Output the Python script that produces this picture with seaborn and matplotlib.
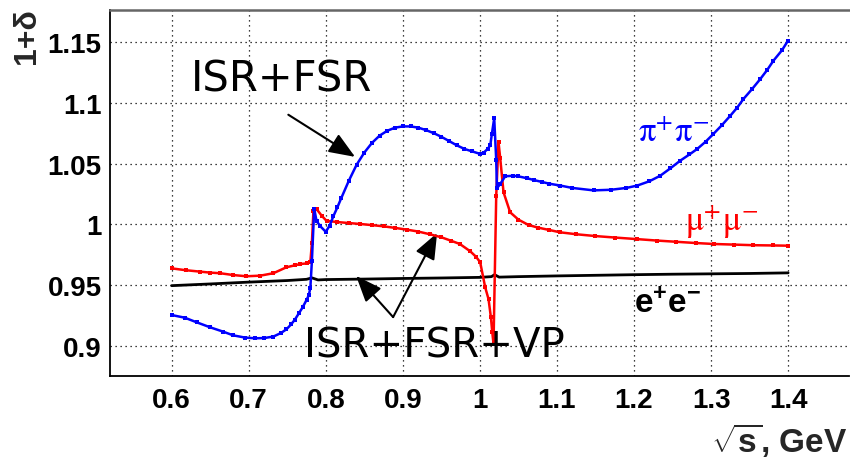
import matplotlib
matplotlib.use("Agg")
import matplotlib.pyplot as plt
import seaborn as sns
import numpy as np
import pandas as pd
from matplotlib.ticker import MultipleLocator, FormatStrFormatter

# ---------------- data ----------------
pipi_x = [0.600, 0.617, 0.633, 0.650, 0.667, 0.680, 0.695, 0.708, 0.720, 0.732,
          0.742, 0.749, 0.755, 0.760, 0.765, 0.770, 0.775, 0.778, 0.780, 0.782,
          0.785, 0.788, 0.793, 0.800, 0.805, 0.810, 0.815, 0.820, 0.830, 0.840,
          0.850, 0.860, 0.870, 0.880, 0.890, 0.900, 0.910, 0.920, 0.930, 0.940,
          0.950, 0.960, 0.970, 0.980, 0.990, 1.000, 1.005, 1.010, 1.0135, 1.0156,
          1.0186, 1.0212, 1.0221, 1.0264, 1.0329, 1.0436, 1.050, 1.061, 1.070, 1.080,
          1.090, 1.104, 1.120, 1.1476, 1.170, 1.190, 1.204, 1.220, 1.234, 1.247,
          1.260, 1.272, 1.282, 1.293, 1.303, 1.314, 1.325, 1.334, 1.342, 1.353,
          1.364, 1.373, 1.381, 1.392, 1.400]
pipi_y = [0.9257, 0.9235, 0.9196, 0.9156, 0.9120, 0.9090, 0.9072, 0.9066, 0.9068, 0.9080,
          0.9110, 0.9140, 0.9180, 0.9220, 0.9270, 0.9320, 0.9380, 0.9420, 0.9480, 0.9700,
          1.0130, 1.0030, 0.9985, 0.9940, 0.9990, 1.0070, 1.0140, 1.0215, 1.0360, 1.0490,
          1.0590, 1.0670, 1.0730, 1.0770, 1.0795, 1.0805, 1.0805, 1.0795, 1.0775, 1.0750,
          1.0720, 1.0685, 1.0650, 1.0620, 1.0600, 1.0580, 1.0590, 1.0620, 1.0650, 1.0745,
          1.0872, 1.0530, 1.0297, 1.0333, 1.0396, 1.0400, 1.0395, 1.0380, 1.0365, 1.0350,
          1.0335, 1.0320, 1.0300, 1.0280, 1.0285, 1.0300, 1.0319, 1.0355, 1.0400, 1.0460,
          1.0524, 1.0575, 1.0620, 1.0680, 1.0743, 1.0815, 1.0893, 1.0960, 1.1030, 1.1110,
          1.1195, 1.1270, 1.1345, 1.1430, 1.1510]

mumu_x = [0.600, 0.618, 0.637, 0.650, 0.663, 0.680, 0.697, 0.715, 0.732, 0.749,
          0.760, 0.767, 0.775, 0.780, 0.782, 0.784, 0.788, 0.795, 0.801, 0.815,
          0.830, 0.845, 0.860, 0.875, 0.890, 0.905, 0.920, 0.935, 0.950, 0.962,
          0.974, 0.9875, 0.995, 1.0004, 1.0069, 1.0112, 1.0143, 1.0160, 1.0177, 1.0212,
          1.0242, 1.0264, 1.0307, 1.0393, 1.0500, 1.0631, 1.075, 1.090, 1.104, 1.125,
          1.150, 1.175, 1.204, 1.230, 1.255, 1.280, 1.3034, 1.330, 1.355, 1.380, 1.400]
mumu_y = [0.9640, 0.9625, 0.9613, 0.9605, 0.9600, 0.9585, 0.9575, 0.9580, 0.9600, 0.9649,
          0.9665, 0.9676, 0.9680, 0.9690, 0.9850, 1.0110, 1.0127, 1.0070, 1.0030, 1.0020,
          1.0012, 1.0004, 0.9995, 0.9985, 0.9972, 0.9958, 0.9942, 0.9920, 0.9895, 0.9868,
          0.9840, 0.9780, 0.9735, 0.9690, 0.9484, 0.9388, 0.9238, 0.9120, 0.9019, 1.0237,
          1.0675, 1.0543, 1.0264, 1.0100, 1.0040, 0.9996, 0.9975, 0.9955, 0.9936, 0.9920,
          0.9905, 0.9893, 0.9880, 0.9868, 0.9858, 0.9848, 0.9840, 0.9835, 0.9830, 0.9828,
          0.9826]

ee_x = [0.60, 0.65, 0.70, 0.75, 0.775, 0.782, 0.79, 0.80, 0.85, 0.90, 0.95, 1.00,
        1.015, 1.019, 1.025, 1.05, 1.10, 1.15, 1.20, 1.25, 1.30, 1.35, 1.40]
ee_y = [0.9498, 0.9512, 0.9527, 0.9540, 0.9550, 0.9562, 0.9545, 0.9548, 0.9552, 0.9557,
        0.9561, 0.9566, 0.9572, 0.9588, 0.9568, 0.9572, 0.9578, 0.9583, 0.9588, 0.9592,
        0.9595, 0.9598, 0.9603]

x_ticks = [0.6, 0.7, 0.8, 0.9, 1.0, 1.1, 1.2, 1.3, 1.4]
y_ticks = [0.9, 0.95, 1.0, 1.05, 1.1, 1.15]

# ---------------- style ----------------
sns.set_theme(style="white")
plt.rcParams['font.family'] = ['Liberation Sans', 'DejaVu Sans']
plt.rcParams['mathtext.fontset'] = 'custom'
plt.rcParams['mathtext.rm'] = 'Liberation Sans'
plt.rcParams['mathtext.bf'] = 'Liberation Sans:bold'
plt.rcParams['mathtext.it'] = 'Liberation Sans:italic'

fig = plt.figure(figsize=(8.5, 4.6), dpi=100)
ax = fig.add_axes([110/850, 82.7/460, 739/850, 366.6/460])

df_pp = pd.DataFrame({"x": pipi_x, "y": pipi_y})
df_mm = pd.DataFrame({"x": mumu_x, "y": mumu_y})
df_ee = pd.DataFrame({"x": ee_x, "y": ee_y})

sns.lineplot(data=df_ee, x="x", y="y", color="black", linewidth=2.0,
             errorbar=None, ax=ax, zorder=3)
sns.lineplot(data=df_mm, x="x", y="y", color="#ff0000", linewidth=1.8,
             marker="s", markersize=3.0, markeredgewidth=0, errorbar=None, ax=ax, zorder=4)
sns.lineplot(data=df_pp, x="x", y="y", color="#0000ff", linewidth=1.8,
             marker="s", markersize=3.0, markeredgewidth=0, errorbar=None, ax=ax, zorder=5)

ax.set_xlim(0.52, 1.479)
ax.set_ylim(0.8754, 1.1763)
ax.set_xlabel("")
ax.set_ylabel("")

ax.xaxis.set_major_locator(MultipleLocator(0.1))
ax.xaxis.set_minor_locator(MultipleLocator(0.02))
ax.yaxis.set_major_locator(MultipleLocator(0.05))
ax.yaxis.set_minor_locator(MultipleLocator(0.01))
ax.set_xticks(x_ticks)
ax.set_yticks(y_ticks)
ax.xaxis.set_major_formatter(FormatStrFormatter('%g'))
ax.yaxis.set_major_formatter(FormatStrFormatter('%g'))

ax.tick_params(axis='both', which='both', direction='in', colors='black',
               top=False, right=False)
ax.tick_params(axis='y', which='major', length=13, width=1.0, pad=6)
ax.tick_params(axis='y', which='minor', length=7, width=1.0)
ax.tick_params(axis='x', which='major', length=11, width=1.0, pad=8)
ax.tick_params(axis='x', which='minor', length=5, width=1.0)
for lab in ax.get_xticklabels() + ax.get_yticklabels():
    lab.set_fontweight('bold')
    lab.set_fontsize(20)

ax.grid(True, which='major', color='black', linestyle=(0, (1, 3)), linewidth=0.9)
ax.set_axisbelow(True)

ax.spines['left'].set_color('black')
ax.spines['left'].set_linewidth(1.3)
ax.spines['bottom'].set_color('black')
ax.spines['bottom'].set_linewidth(1.3)
ax.spines['top'].set_color('#666666')
ax.spines['top'].set_linewidth(1.8)
ax.spines['right'].set_visible(False)

# axis titles
fig.text(27/850, 1 - 8/460, "1+δ", rotation=90, ha='center', va='top',
         fontsize=23, fontweight='bold')
fig.text(848/850, 1 - 440/460, r"$\sqrt{\mathbf{s}}$, GeV", ha='right', va='center',
         fontsize=24, fontweight='bold')

# curve labels
ax.text(1.251, 1.076, r'$\mathrm{\pi^{+}\pi^{-}}$', color='#0000ff', fontsize=25,
        ha='center', va='center', math_fontfamily='stix')
ax.text(1.3134, 1.0029, r'$\mathrm{\mu^{+}\mu^{-}}$', color='#ff0000', fontsize=25,
        ha='center', va='center', math_fontfamily='stix')
ax.text(1.2434, 0.9348, r'$\mathbf{e^{+}e^{-}}$', color='black', fontsize=24,
        ha='center', va='center')

# annotations
ax.text(0.742, 1.1195, "ISR+FSR", fontsize=30, ha='center', va='center',
        family='DejaVu Sans', color='black')
ax.text(0.9407, 0.901, "ISR+FSR+VP", fontsize=29, ha='center', va='center',
        family='DejaVu Sans', color='black', zorder=6)

arrow_kw = dict(arrowstyle='-|>,head_length=0.8,head_width=0.32', color='black',
                lw=1.5, mutation_scale=20, shrinkA=0, shrinkB=0)
ax.annotate('', xy=(0.838, 1.0555), xytext=(0.7514, 1.0901), arrowprops=arrow_kw)
ax.annotate('', xy=(0.8394, 0.9578), xytext=(0.8874, 0.9240), arrowprops=arrow_kw)
ax.annotate('', xy=(0.9445, 0.9930), xytext=(0.8874, 0.9240), arrowprops=arrow_kw)

fig.savefig("out.png", dpi=100)
